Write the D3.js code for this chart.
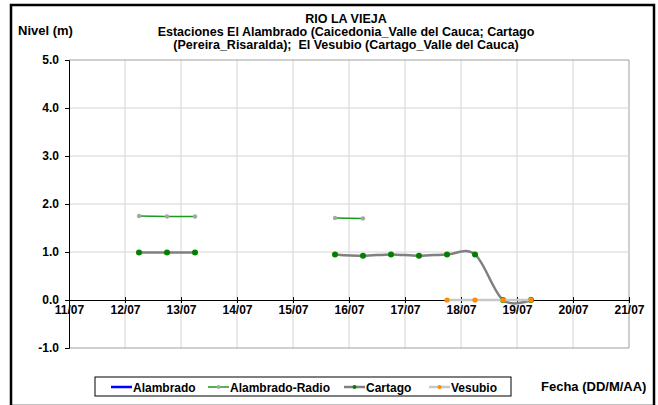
<!DOCTYPE html>
<html>
<head>
<meta charset="utf-8">
<script src="https://cdn.jsdelivr.net/npm/d3@7"></script>
<style>
    body { margin: 0; background: #fff; }
    svg { display: block; font-family: "Liberation Sans", Arial, sans-serif; }
    text { font-weight: bold; fill: #000; }
</style>
</head>
<body>
<svg id="chart" width="658" height="405"></svg>
<script>
// Time stamps (day of July, fractional) shared by all series
const timeStamps = [12.25, 12.75, 13.25, 13.75, 14.25, 14.75, 15.25, 15.75, 16.25, 16.75, 17.25, 17.75, 18.25, 18.75, 19.25];

const alambrado = [null, null, null, null, null, null, null, null, null, null, null, null, null, null, null];
const alambradoRadio = [1.75, 1.74, 1.74, null, null, null, null, 1.71, 1.70, null, null, null, null, null, null];
const cartago = [0.99, 0.99, 0.99, null, null, null, null, 0.95, 0.92, 0.95, 0.92, 0.95, 0.95, 0.0, 0.0];
const vesubio = [null, null, null, null, null, null, null, null, null, null, null, 0.0, 0.0, 0.0, 0.0];

const xTickDays = [11, 12, 13, 14, 15, 16, 17, 18, 19, 20, 21];
const yTicks = [-1, 0, 1, 2, 3, 4, 5];

const titleLines = [
    "RIO LA VIEJA",
    "Estaciones El Alambrado (Caicedonia_Valle del Cauca; Cartago",
    "(Pereira_Risaralda);  El Vesubio (Cartago_Valle del Cauca)"
];

const series = [
    { name: "Alambrado", values: alambrado, lineColor: "#0000ff", lineWidth: 2.5, markerColor: null, r: 0, smooth: false },
    { name: "Alambrado-Radio", values: alambradoRadio, lineColor: "#1a9a1a", lineWidth: 1.5, markerColor: "#a6a6a6", r: 2.2, smooth: false },
    { name: "Cartago", values: cartago, lineColor: "#808080", lineWidth: 2.5, markerColor: "#008000", r: 3, smooth: true },
    { name: "Vesubio", values: vesubio, lineColor: "#c8c8c8", lineWidth: 2.5, markerColor: "#ff8c00", r: 2.6, smooth: false }
];

const svg = d3.select("#chart");

const plot = { left: 69, right: 629, top: 60, bottom: 348 };

const scaleX = d3.scaleLinear().domain([11, 21]).range([plot.left, plot.right]);
const scaleY = d3.scaleLinear().domain([-1, 5]).range([plot.bottom, plot.top]);

// outer frame
svg.append("rect")
    .attr("x", 11).attr("y", 5)
    .attr("width", 643).attr("height", 401)
    .attr("fill", "none").attr("stroke", "#000").attr("stroke-width", 2.5);

// grid
const grid = svg.append("g").attr("class", "gridLines");
grid.selectAll("line.v")
    .data(xTickDays.slice(1))
    .join("line")
    .attr("class", "v")
    .attr("x1", (d) => scaleX(d)).attr("x2", (d) => scaleX(d))
    .attr("y1", plot.top).attr("y2", plot.bottom)
    .attr("stroke", (d) => (d === 21 ? "#a0a0a0" : "#d4d4d4")).attr("stroke-width", 1);
grid.selectAll("line.h")
    .data(yTicks.filter((d) => d !== 0))
    .join("line")
    .attr("class", "h")
    .attr("x1", plot.left).attr("x2", plot.right)
    .attr("y1", (d) => scaleY(d)).attr("y2", (d) => scaleY(d))
    .attr("stroke", (d) => (d === 5 || d === -1 ? "#a0a0a0" : "#d4d4d4")).attr("stroke-width", 1);

// y axis
const yAxis = d3.axisLeft(scaleY).tickValues(yTicks).tickSize(4).tickFormat((d) => d.toFixed(1));
svg.append("g")
    .attr("class", "yAxis")
    .attr("transform", `translate(${plot.left}, 0)`)
    .call(yAxis)
    .call((g) => {
        g.select(".domain").attr("stroke", "#000");
        g.selectAll("text").style("font-size", "12px").style("font-weight", "bold").attr("fill", "#000").attr("x", -10);
    });

// x axis at zero
const xAxis = d3.axisBottom(scaleX).tickValues(xTickDays).tickSizeInner(4).tickSizeOuter(0)
    .tickFormat((d) => `${d}/07`);
svg.append("g")
    .attr("class", "xAxis")
    .attr("transform", `translate(0, ${scaleY(0)})`)
    .call(xAxis)
    .call((g) => {
        g.select(".domain").attr("stroke", "#000");
        g.selectAll(".tick line").attr("y1", -3).attr("y2", 3);
        g.selectAll("text").style("font-size", "12px").style("font-weight", "bold").attr("fill", "#000").attr("y", 5);
    });

// series
const values = svg.append("g").attr("class", "values");
series.forEach((s) => {
    const points = timeStamps.map((t, i) => ({ t, v: s.values[i] }));
    const line = d3.line()
        .defined((d) => d.v !== null)
        .x((d) => scaleX(d.t))
        .y((d) => scaleY(d.v))
        .curve(s.smooth ? d3.curveCardinal.tension(0) : d3.curveLinear);

    const g = values.append("g").attr("class", `series_${s.name}`);
    g.append("path")
        .datum(points)
        .attr("fill", "none")
        .attr("stroke", s.lineColor)
        .attr("stroke-width", s.lineWidth)
        .attr("d", line);

    if (s.markerColor) {
        g.selectAll("circle")
            .data(points.filter((d) => d.v !== null))
            .join("circle")
            .attr("cx", (d) => scaleX(d.t))
            .attr("cy", (d) => scaleY(d.v))
            .attr("r", s.r)
            .attr("fill", s.markerColor);
    }
});

// titles
svg.append("g")
    .selectAll("text")
    .data(titleLines)
    .join("text")
    .attr("x", 346)
    .attr("y", (d, i) => 23 + i * 13)
    .attr("text-anchor", "middle")
    .style("font-size", "12.5px")
    .style("white-space", "pre")
    .text((d) => d);

svg.append("text").attr("x", 18).attr("y", 35).style("font-size", "13px").text("Nivel (m)");
svg.append("text").attr("x", 541).attr("y", 391).style("font-size", "13px").text("Fecha (DD/M/AA)");

// legend
const legend = svg.append("g").attr("class", "legend");
legend.append("rect")
    .attr("x", 95).attr("y", 377).attr("width", 416).attr("height", 19)
    .attr("fill", "#fff").attr("stroke", "#000").attr("stroke-width", 1);
const legendX = [111, 208, 344, 429];
series.forEach((s, i) => {
    const x0 = legendX[i];
    const y0 = 387;
    legend.append("line")
        .attr("x1", x0).attr("x2", x0 + 21)
        .attr("y1", y0).attr("y2", y0)
        .attr("stroke", s.lineColor).attr("stroke-width", s.lineWidth);
    if (s.markerColor) {
        legend.append("circle").attr("cx", x0 + 10.5).attr("cy", y0).attr("r", 2).attr("fill", s.markerColor);
    }
    legend.append("text")
        .attr("x", x0 + 22).attr("y", y0 + 4.5)
        .style("font-size", "12px")
        .text(s.name);
});
</script>
</body>
</html>
